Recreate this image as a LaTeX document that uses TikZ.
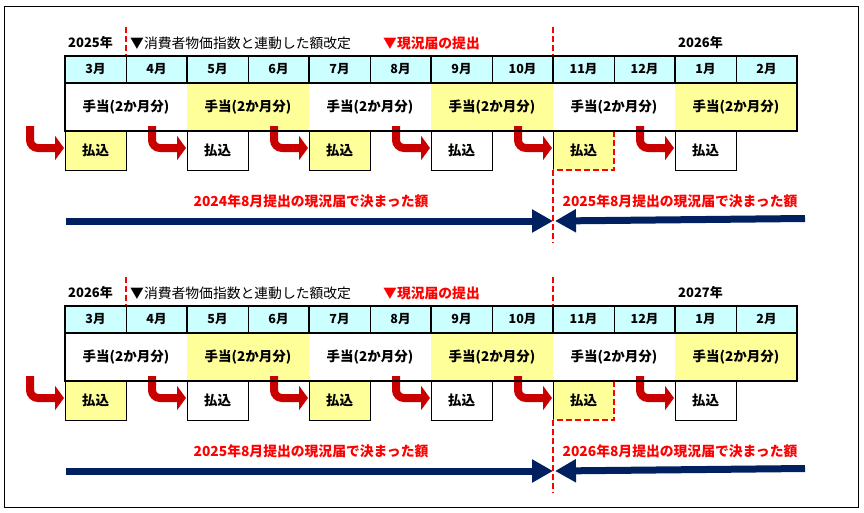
\documentclass[tikz,border=0pt]{standalone}
\usepackage{fontspec}
\setmainfont{Noto Sans CJK JP}
\usetikzlibrary{arrows.meta}
\definecolor{cyancell}{HTML}{CCFFFF}
\definecolor{yelcell}{HTML}{FFFF99}
\definecolor{navyblue}{HTML}{002060}
\definecolor{darkred}{HTML}{C80000}
\definecolor{brightred}{HTML}{FF0000}
\tikzset{
  cell/.style={minimum width=61pt, inner sep=0pt, outer sep=0pt, font=\bfseries\fontsize{12.5}{14}\selectfont},
  monthcell/.style={cell, minimum height=27pt, fill=cyancell},
  paircell/.style={cell, minimum width=122pt, minimum height=48pt, font=\bfseries\fontsize{13.5}{15}\selectfont},
  paybox/.style={cell, minimum height=39pt, draw=black, line width=1pt, font=\bfseries\fontsize{13.5}{15}\selectfont},
  thickline/.style={line width=2pt, black},
  thinline/.style={line width=1pt, black},
  reddash/.style={line width=2pt, brightred, dash pattern=on 6pt off 3pt},
  bent/.style={line width=8pt, darkred, rounded corners=8pt, -{Triangle[length=9pt,width=24pt]}},
  bluearrow/.style={line width=7pt, navyblue, -{Triangle[length=21pt,width=22pt]}},
  yearlabel/.style={font=\bfseries\fontsize{13}{15}\selectfont, inner sep=0pt},
  notelabel/.style={font=\fontsize{13.8}{15}\selectfont, inner sep=0pt, anchor=west},
  rednote/.style={font=\bfseries\fontsize{13.8}{15}\selectfont, text=brightred, inner sep=0pt, anchor=west},
  amountlabel/.style={font=\bfseries\fontsize{13.8}{15}\selectfont, text=brightred, inner sep=0pt},
}
\begin{document}
\begin{tikzpicture}[x=1pt,y=-1pt]
\useasboundingbox (0,0) rectangle (864,512);
\draw[line width=1pt] (4.5,6) rectangle (858.5,507.5);
\foreach \s/\off/\ya/\yb/\la/\lb in {0/0/2025/2026/2024/2025, 1/250/2026/2027/2025/2026}{
  % labels above
  \node[yearlabel] (y\s a) at (90.5,43+\off) {\ya 年};
  \node[notelabel] (n\s) at (130,43+\off) {▼消費者物価指数と連動した額改定};
  \node[rednote] (r\s) at (383,43+\off) {▼現況届の提出};
  \node[yearlabel] (y\s b) at (700.5,43+\off) {\yb 年};
  % red dashed markers
  \draw[reddash] (126,27+\off) -- (126,56+\off);
  \draw[reddash] (553,27+\off) -- (553,56+\off);
  \draw[reddash] (553,170+\off) -- (553,243+\off);
  % month cells
  \foreach \mo [count=\i from 0] in {3,4,5,6,7,8,9,10,11,12,1,2}{
    \node[monthcell] (m\s-\i) at (95.5+61*\i,69.5+\off) {\mo 月};
  }
  % allowance and payment cells
  \foreach \k/\ac/\pc in {0/white/yelcell,1/yelcell/white,2/white/yelcell,3/yelcell/white,4/white/yelcell,5/yelcell/white}{
    \node[paircell, fill=\ac] (a\s-\k) at (126+122*\k,107+\off) {手当(2か月分)};
    \ifnum\k=4
      \node[paybox, draw=none, fill=\pc] (p\s-\k) at (95.5+122*\k,150.5+\off) {払込};
      \draw[thinline] (p\s-\k.north west) -- (p\s-\k.south west);
      \draw[reddash] (p\s-\k.north east) -- (p\s-\k.south east) -- (p\s-\k.south west);
    \else
      \node[paybox, fill=\pc] (p\s-\k) at (95.5+122*\k,150.5+\off) {払込};
    \fi
    \draw[bent] ([xshift=-35pt,yshift=5pt]p\s-\k.north west) -- ([xshift=-35pt,yshift=2.5pt]p\s-\k.west) -- ([xshift=-1pt,yshift=2.5pt]p\s-\k.west);
  }
  % table grid
  \foreach \k in {0,...,5}{
    \draw[thinline] (m\s-\the\numexpr2*\k\relax.north east) -- (m\s-\the\numexpr2*\k\relax.south east);
  }
  \draw[thickline] (m\s-0.south west) -- (m\s-11.south east);
  \foreach \k in {1,...,5}{
    \draw[thickline] (a\s-\k.north west) -- (m\s-\the\numexpr2*\k\relax.north west);
  }
  \draw[thickline] (m\s-0.north west) rectangle (a\s-5.south east);
  % blue arrows
  \coordinate (L\s) at (66,221+\off);
  \coordinate (M\s) at (553,221+\off);
  \coordinate (R\s) at (805,218.5+\off);
  \draw[bluearrow] (L\s) -- (M\s);
  \draw[bluearrow] (R\s) -- ([xshift=2pt]M\s);
  \node[amountlabel] (t\s a) at (311,201+\off) {\la 年8月提出の現況届で決まった額};
  \node[amountlabel] (t\s b) at (680,201+\off) {\lb 年8月提出の現況届で決まった額};
}
\end{tikzpicture}
\end{document}
